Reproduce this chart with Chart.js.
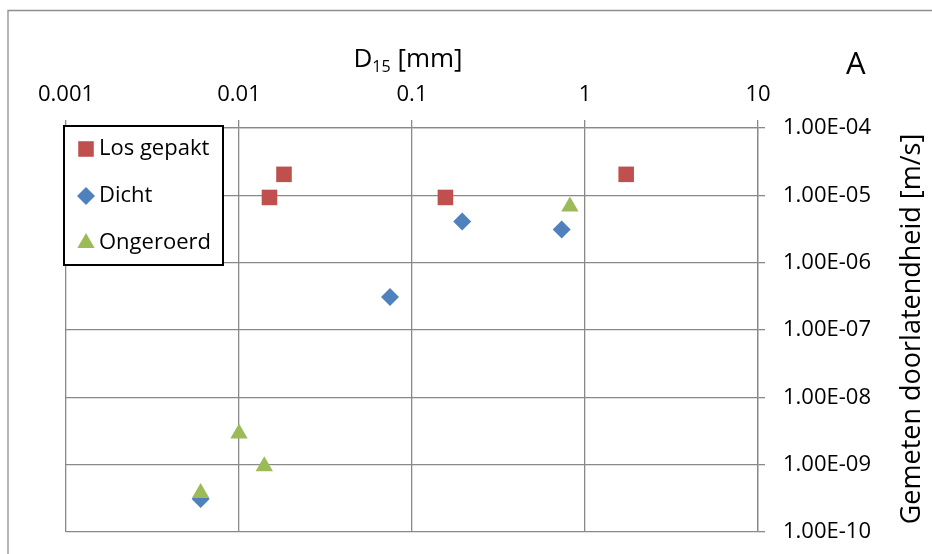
<!DOCTYPE html>
<html><head><meta charset="utf-8">
<script src="https://cdn.jsdelivr.net/npm/chart.js@4.4.1/dist/chart.umd.min.js"></script>
<style>html,body{margin:0;padding:0;background:#fff}#wrap{width:932px;height:554px;position:relative}</style>
</head><body><div id="wrap"><canvas id="c"></canvas></div>
<script>
// ---- data ----
const xTickValues = [0.001, 0.01, 0.1, 1, 10];
const xTickLabels = ['0.001', '0.01', '0.1', '1', '10'];
const yTickValues = [1e-10, 1e-9, 1e-8, 1e-7, 1e-6, 1e-5, 1e-4];
const yTickLabels = ['1.00E-10', '1.00E-09', '1.00E-08', '1.00E-07', '1.00E-06', '1.00E-05', '1.00E-04'];
const seriesNames = ['Los gepakt', 'Dicht', 'Ongeroerd'];
const losGepaktX = [0.015, 0.0182, 0.156, 1.73];
const losGepaktY = [9.3e-6, 2.05e-5, 9.3e-6, 2.05e-5];
const dichtX = [0.006, 0.0746, 0.195, 0.733];
const dichtY = [3.1e-10, 3.1e-7, 4.1e-6, 3.1e-6];
const ongeroerdX = [0.006, 0.01, 0.014, 0.818];
const ongeroerdY = [3.8e-10, 2.9e-9, 9.5e-10, 6.8e-6];
const xTitleMain = 'D', xTitleSub = '15', xTitleRest = ' [mm]';
const yTitle = 'Gemeten doorlatendheid [m/s]';
const panelLabel = 'A';

const FONT = '"Open Sans", "Noto Sans", sans-serif';
const GRID = '#898989';
const colors = ['#C0504D', '#4F81BD', '#9BBB59'];
const styles = ['rect', 'rectRot', 'triangle'];
const radii = [11, 9, 10];
const drawOrder = [2, 1, 0];

const zip = (xs, ys) => xs.map((x, i) => ({x: x, y: ys[i]}));
const seriesData = [zip(losGepaktX, losGepaktY), zip(dichtX, dichtY), zip(ongeroerdX, ongeroerdY)];

const datasets = seriesNames.map((n, i) => ({
  label: n,
  data: seriesData[i],
  order: drawOrder[i],
  pointStyle: styles[i],
  pointRadius: radii[i],
  pointHoverRadius: radii[i],
  pointBackgroundColor: colors[i],
  pointBorderColor: colors[i],
  pointBorderWidth: 0,
  showLine: false
}));

const decor = {
  id: 'decor',
  afterDraw(chart) {
    const ctx = chart.ctx;
    ctx.save();
    // outer frame
    ctx.strokeStyle = '#8e8e8e';
    ctx.lineWidth = 1.3;
    ctx.beginPath();
    ctx.moveTo(8, 560); ctx.lineTo(8, 10.5); ctx.lineTo(940, 10.5);
    ctx.stroke();
    // x title with subscript
    ctx.fillStyle = '#000';
    ctx.textBaseline = 'alphabetic';
    ctx.textAlign = 'left';
    const big = '26px ' + FONT, small = '16px ' + FONT;
    ctx.font = big; const w1 = ctx.measureText(xTitleMain).width; const w3 = ctx.measureText(xTitleRest).width;
    ctx.font = small; const w2 = ctx.measureText(xTitleSub).width;
    const total = w1 + w2 + w3;
    let x0 = 408 - total / 2;
    const base = 67;
    ctx.font = big; ctx.fillText(xTitleMain, x0, base);
    ctx.font = small; ctx.fillText(xTitleSub, x0 + w1, base + 5);
    ctx.font = big; ctx.fillText(xTitleRest, x0 + w1 + w2, base);
    // panel label
    ctx.font = '31px ' + FONT;
    ctx.fillText(panelLabel, 846, 74);
    // y title rotated
    ctx.save();
    ctx.translate(912, 329);
    ctx.rotate(-Math.PI / 2);
    ctx.font = '27px ' + FONT;
    ctx.textAlign = 'center';
    ctx.textBaseline = 'middle';
    ctx.fillText(yTitle, 0, 0);
    ctx.restore();
    // legend box
    ctx.fillStyle = '#fff';
    ctx.fillRect(64, 126, 159, 139);
    ctx.strokeStyle = '#000';
    ctx.lineWidth = 2;
    ctx.strokeRect(64, 126, 159, 139);
    const ys = [149, 196, 243];
    seriesNames.forEach((name, i) => {
      const ds = chart.data.datasets[i];
      ctx.fillStyle = ds.pointBackgroundColor;
      ctx.strokeStyle = ds.pointBorderColor;
      Chart.helpers.drawPoint(ctx, {pointStyle: ds.pointStyle, radius: ds.pointRadius, rotation: 0, borderWidth: 0}, 86, ys[i]);
      ctx.fillStyle = '#000';
      ctx.font = '22px ' + FONT;
      ctx.textAlign = 'left';
      ctx.textBaseline = 'middle';
      ctx.fillText(ds.label, 99, ys[i]);
    });
    ctx.restore();
  }
};

new Chart(document.getElementById('c'), {
  type: 'scatter',
  data: {datasets: datasets},
  plugins: [decor],
  options: {
    responsive: true,
    maintainAspectRatio: false,
    animation: false,
    events: [],
    layout: {padding: {left: 66, right: 0, top: 0, bottom: 22}},
    plugins: {legend: {display: false}, tooltip: {enabled: false}},
    scales: {
      x: {
        type: 'logarithmic',
        position: 'top',
        min: 0.001, max: 10,
        afterBuildTicks: s => { s.ticks = xTickValues.map(v => ({value: v})); },
        afterFit: s => { s.height = 128; s.paddingLeft = 0; s.paddingRight = 0; },
        ticks: {
          autoSkip: false, maxRotation: 0, padding: 12,
          color: '#000', font: {family: FONT, size: 22},
          callback: (v) => xTickLabels[xTickValues.findIndex(t => Math.abs(Math.log10(t) - Math.log10(v)) < 1e-6)]
        },
        grid: {color: GRID, lineWidth: 1.3, tickLength: 8, drawTicks: true},
        border: {color: GRID, width: 1.3}
      },
      y: {
        type: 'logarithmic',
        position: 'right',
        min: 1e-10, max: 1e-4,
        afterBuildTicks: s => { s.ticks = yTickValues.map(v => ({value: v})); },
        afterFit: s => { s.width = 174; s.paddingTop = 0; s.paddingBottom = 0; },
        ticks: {
          autoSkip: false, padding: 18,
          color: '#000', font: {family: FONT, size: 22},
          callback: (v) => yTickLabels[yTickValues.findIndex(t => Math.abs(Math.log10(t) - Math.log10(v)) < 1e-6)]
        },
        grid: {color: GRID, lineWidth: 1.3, tickLength: 7, drawTicks: true},
        border: {color: GRID, width: 1.3}
      }
    }
  }
});
</script>
</body></html>
